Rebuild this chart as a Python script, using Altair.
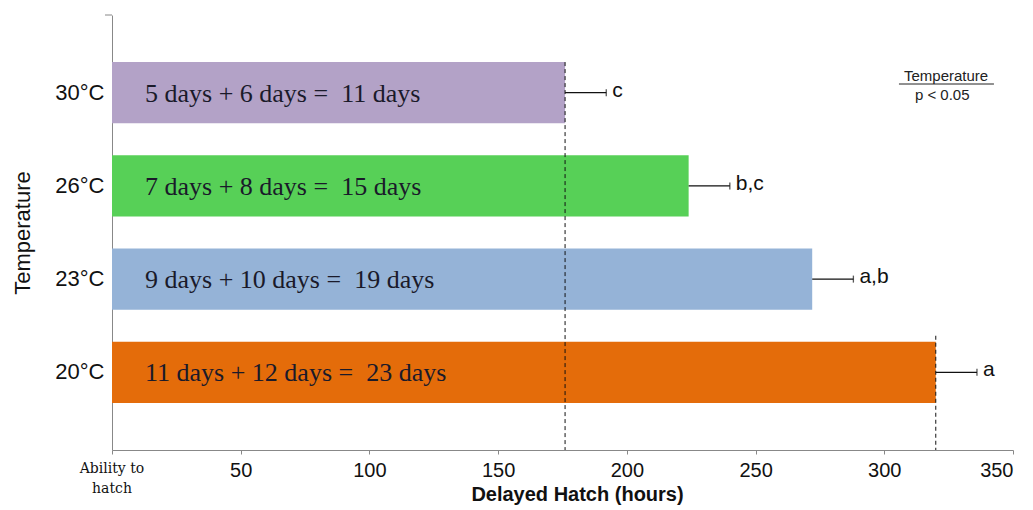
import altair as alt
import pandas as pd

# Mean delayed hatch per incubation temperature
temps = ["30°C", "26°C", "23°C", "20°C"]
hours = [176, 224, 272, 320]
errors = [16, 16, 16, 16]
letters = ["c", "b,c", "a,b", "a"]
day_text = [
    "5 days + 6 days =\u00a0 11 days",
    "7 days + 8 days =\u00a0 15 days",
    "9 days + 10 days =\u00a0 19 days",
    "11 days + 12 days =\u00a0 23 days",
]
colors = ["#B3A2C7", "#57D057", "#95B3D7", "#E46C0A"]

df = pd.DataFrame({
    "Temp": temps,
    "hours": hours,
    "err": errors,
    "letter": letters,
    "label": day_text,
})
df["upper"] = df["hours"] + df["err"]

SANS = "Liberation Sans"
SERIF = "Liberation Serif"

y_enc = alt.Y(
    "Temp:N",
    sort=temps,
    scale=alt.Scale(paddingInner=0.344, paddingOuter=0.505),
    axis=alt.Axis(
        title="Temperature",
        titleFont=SANS,
        titleFontSize=22,
        titleFontWeight="normal",
        titleColor="#111",
        titlePadding=20,
        labelFont=SANS,
        labelFontSize=22,
        labelColor="#111",
        labelPadding=8,
        ticks=False,
        domainColor="#888",
    ),
)

x_scale = alt.Scale(domain=[0, 350], nice=False, zero=True)
x_axis = alt.Axis(
    title="Delayed Hatch (hours)",
    titleFont=SANS,
    titleFontSize=20,
    titleFontWeight="bold",
    titleColor="#111",
    titlePadding=4,
    titleX=465,
    values=[0, 50, 100, 150, 200, 250, 300, 350],
    labelExpr="datum.value == 0 ? '' : datum.label",
    labelFont=SANS,
    labelFontSize=20,
    labelColor="#111",
    labelPadding=6,
    tickSize=4,
    tickColor="#888",
    domainColor="#888",
    grid=False,
)

base = alt.Chart(df)
y_plain = alt.Y("Temp:N", sort=temps)

bars = base.mark_bar().encode(
    x=alt.X("hours:Q", scale=x_scale, axis=x_axis),
    y=y_enc,
    color=alt.Color("Temp:N", scale=alt.Scale(domain=temps, range=colors), legend=None),
)

err_line = base.mark_rule(color="#111", strokeWidth=1.3).encode(
    x="hours:Q", x2="upper:Q", y=y_plain
)
err_cap = base.mark_tick(color="#111", orient="vertical", size=7, thickness=1.3).encode(
    x="upper:Q", y=y_plain
)
letter_text = base.mark_text(
    align="left", baseline="middle", dx=6, dy=-2, font=SANS, fontSize=21, color="#111"
).encode(x="upper:Q", y=y_plain, text="letter:N")

bar_text = base.mark_text(
    align="left", baseline="middle", dx=33, dy=1, font=SERIF, fontSize=26, color="#1a1a2a"
).encode(x=alt.datum(0), y=y_plain, text="label:N")

# Dashed reference lines at the shortest and longest delays
dash_top = alt.Chart(df[df["Temp"] == "30°C"]).mark_rule(
    color="#111", strokeDash=[4, 3], strokeWidth=1
).encode(
    x="hours:Q",
    y=alt.Y("Temp:N", sort=temps, bandPosition=0),
    y2=alt.value(435),
)
dash_bottom = alt.Chart(df[df["Temp"] == "20°C"]).mark_rule(
    color="#111", strokeDash=[4, 3], strokeWidth=1, yOffset=-6
).encode(
    x="hours:Q",
    y=alt.Y("Temp:N", sort=temps, bandPosition=0),
    y2=alt.value(435),
)

# Short cap at the top of the vertical axis
axis_cap = alt.Chart(df.head(1)).mark_rule(color="#888", strokeWidth=1).encode(
    x=alt.value(-7), x2=alt.value(0), y=alt.value(0)
)

# Two-line label under the origin tick
origin_text = alt.layer(*[
    alt.Chart(pd.DataFrame({"x": [0], "t": [t]})).mark_text(
        align="center", baseline="middle", font="DejaVu Serif", fontSize=14, color="#111", dy=dy
    ).encode(x="x:Q", y=alt.value(435), text="t:N")
    for t, dy in [("Ability to", 19), ("hatch", 39)]
])

# Significance note
note_title = alt.Chart(pd.DataFrame({"x": [324], "t": ["Temperature"]})).mark_text(
    align="center", baseline="middle", font=SANS, fontSize=15, color="#222"
).encode(x="x:Q", y=alt.value(61), text="t:N")
note_line = alt.Chart(pd.DataFrame({"a": [305.7], "b": [342.6]})).mark_rule(
    color="#222", strokeWidth=1
).encode(x="a:Q", x2="b:Q", y=alt.value(69))
note_p = alt.Chart(pd.DataFrame({"x": [322.5], "t": ["p < 0.05"]})).mark_text(
    align="center", baseline="middle", font=SANS, fontSize=15, color="#222"
).encode(x="x:Q", y=alt.value(80), text="t:N")

chart = alt.layer(
    bars, dash_top, dash_bottom, err_line, err_cap, letter_text, bar_text,
    axis_cap, origin_text, note_title, note_line, note_p,
).properties(
    width=901,
    height=435,
    padding={"left": 112, "top": 15, "right": 20, "bottom": 60},
    autosize=alt.AutoSizeParams(type="none"),
    background="white",
).configure_view(stroke=None)

chart.save("out.html", embed_options={"renderer": "svg", "actions": False})
